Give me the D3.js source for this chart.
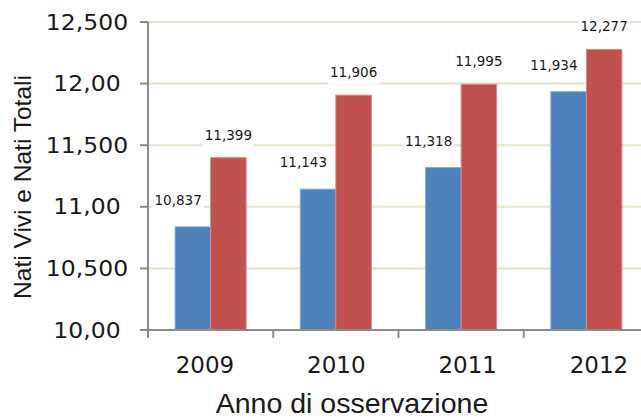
<!DOCTYPE html>
<html>
<head>
<meta charset="utf-8">
<script src="https://cdn.jsdelivr.net/npm/d3@7"></script>
<style>
  body { margin: 0; background: #ffffff; }
  #chart { width: 641px; height: 418px; }
</style>
</head>
<body>
<div id="chart"></div>
<script>
// data
var years = ["2009", "2010", "2011", "2012"];
var series = ["Nati Vivi", "Nati Totali"];
var natiVivi = [10837, 11143, 11318, 11934];
var natiTotali = [11399, 11906, 11995, 12277];
var yTicks = [10000, 10500, 11000, 11500, 12000, 12500];
var yTickLabels = ["10,00", "10,500", "11,00", "11,500", "12,00", "12,500"];

var colors = ["#4f81bd", "#c0504d"];
var edges = ["#7fa3d1", "#d98a88"];

var width = 641, height = 418;
var plot = {left: 148, right: 649, top: 22, bottom: 330};

var svg = d3.select("#chart")
    .append("svg")
    .attr("width", width)
    .attr("height", height);

// Create X scale
var x0 = d3.scaleBand()
    .domain(years)
    .range([plot.left, plot.right])
    .paddingInner(0)
    .paddingOuter(0);

var x1 = d3.scaleBand()
    .domain(series)
    .range([0, x0.bandwidth()])
    .paddingInner(0)
    .paddingOuter(0.764);

// year labels sit a bit wider apart than the bands in the original
var xLabel = d3.scalePoint()
    .domain(years)
    .range([205, 599]);

// Create Y scale
var y = d3.scaleLinear()
    .domain([10000, 12500])
    .range([plot.bottom, plot.top]);

// gridlines
svg.append("g")
    .selectAll("line")
    .data(yTicks.slice(1))
    .enter()
    .append("line")
    .attr("x1", plot.left)
    .attr("x2", width)
    .attr("y1", function(d) { return y(d); })
    .attr("y2", function(d) { return y(d); })
    .attr("stroke", "#e4e0ca")
    .attr("stroke-width", 2);

// bars
var rows = years.map(function(yr, i) {
    return {year: yr, values: [natiVivi[i], natiTotali[i]]};
});

var groups = svg.append("g")
    .selectAll("g")
    .data(rows)
    .enter()
    .append("g")
    .attr("transform", function(d) { return "translate(" + x0(d.year) + ",0)"; });

groups.selectAll("rect")
    .data(function(d) { return d.values.map(function(v, j) { return {key: series[j], value: v, j: j}; }); })
    .enter()
    .append("rect")
    .attr("x", function(d) { return x1(d.key); })
    .attr("y", function(d) { return y(d.value); })
    .attr("width", x1.bandwidth())
    .attr("height", function(d) { return y(10000) - y(d.value); })
    .attr("fill", function(d) { return colors[d.j]; })
    .attr("stroke", function(d) { return edges[d.j]; })
    .attr("stroke-width", 1);

// value labels with white boxes behind them
var fmt = d3.format(",");
var labels = [];
rows.forEach(function(d) {
    labels.push({x: x0(d.year) + x1(series[0]) + 3, y: y(d.values[0]) - 22, text: fmt(d.values[0])});
    labels.push({x: x0(d.year) + x1(series[1]) + x1.bandwidth() / 2, y: y(d.values[1]) - 18, text: fmt(d.values[1])});
});

var lab = svg.append("g")
    .selectAll("g")
    .data(labels)
    .enter()
    .append("g");

lab.append("text")
    .attr("x", function(d) { return d.x; })
    .attr("y", function(d) { return d.y; })
    .attr("text-anchor", "middle")
    .attr("font-family", "DejaVu Sans, Verdana, sans-serif")
    .attr("font-size", "13.5px")
    .attr("fill", "#1a1a1a")
    .text(function(d) { return d.text; });

lab.each(function() {
    var g = d3.select(this);
    var b = g.select("text").node().getBBox();
    g.insert("rect", "text")
        .attr("x", b.x - 2)
        .attr("y", b.y)
        .attr("width", b.width + 4)
        .attr("height", b.height + 4)
        .attr("fill", "#ffffff");
});

// Y axis
var axisColor = "#8c8c8c";
svg.append("line")
    .attr("x1", plot.left).attr("x2", plot.left)
    .attr("y1", plot.top).attr("y2", plot.bottom + 8)
    .attr("stroke", axisColor).attr("stroke-width", 2);

svg.append("g")
    .selectAll("line")
    .data(yTicks)
    .enter()
    .append("line")
    .attr("x1", plot.left - 8)
    .attr("x2", plot.left)
    .attr("y1", function(d) { return y(d); })
    .attr("y2", function(d) { return y(d); })
    .attr("stroke", axisColor)
    .attr("stroke-width", 2);

// tick labels are drawn a bit wide in the original, so stretch them
svg.append("g")
    .selectAll("text")
    .data(yTicks)
    .enter()
    .append("text")
    .attr("transform", function(d) { return "translate(87," + y(d) + ") scale(1.12,1)"; })
    .attr("dy", "0.36em")
    .attr("text-anchor", "middle")
    .attr("font-family", "DejaVu Sans, Verdana, sans-serif")
    .attr("font-size", "21px")
    .attr("fill", "#1a1a1a")
    .text(function(d, i) { return yTickLabels[i]; });

// X axis
svg.append("line")
    .attr("x1", plot.left).attr("x2", width)
    .attr("y1", plot.bottom).attr("y2", plot.bottom)
    .attr("stroke", axisColor).attr("stroke-width", 2);

svg.append("g")
    .selectAll("line")
    .data(years)
    .enter()
    .append("line")
    .attr("x1", function(d) { return x0(d); })
    .attr("x2", function(d) { return x0(d); })
    .attr("y1", plot.bottom)
    .attr("y2", plot.bottom + 8)
    .attr("stroke", axisColor)
    .attr("stroke-width", 2);

svg.append("g")
    .selectAll("text")
    .data(years)
    .enter()
    .append("text")
    .attr("x", function(d) { return xLabel(d); })
    .attr("y", 373)
    .attr("text-anchor", "middle")
    .attr("font-family", "DejaVu Sans, Verdana, sans-serif")
    .attr("font-size", "23px")
    .attr("fill", "#1a1a1a")
    .text(function(d) { return d; });

// axis titles
svg.append("text")
    .attr("transform", "translate(31,187) rotate(-90)")
    .attr("text-anchor", "middle")
    .attr("font-family", "Liberation Sans, Arial, sans-serif")
    .attr("font-size", "24.5px")
    .attr("fill", "#1a1a1a")
    .text("Nati Vivi e Nati Totali");

svg.append("text")
    .attr("x", 352)
    .attr("y", 413)
    .attr("text-anchor", "middle")
    .attr("font-family", "Liberation Sans, Arial, sans-serif")
    .attr("font-size", "28.5px")
    .attr("fill", "#1a1a1a")
    .text("Anno di osservazione");
</script>
</body>
</html>
